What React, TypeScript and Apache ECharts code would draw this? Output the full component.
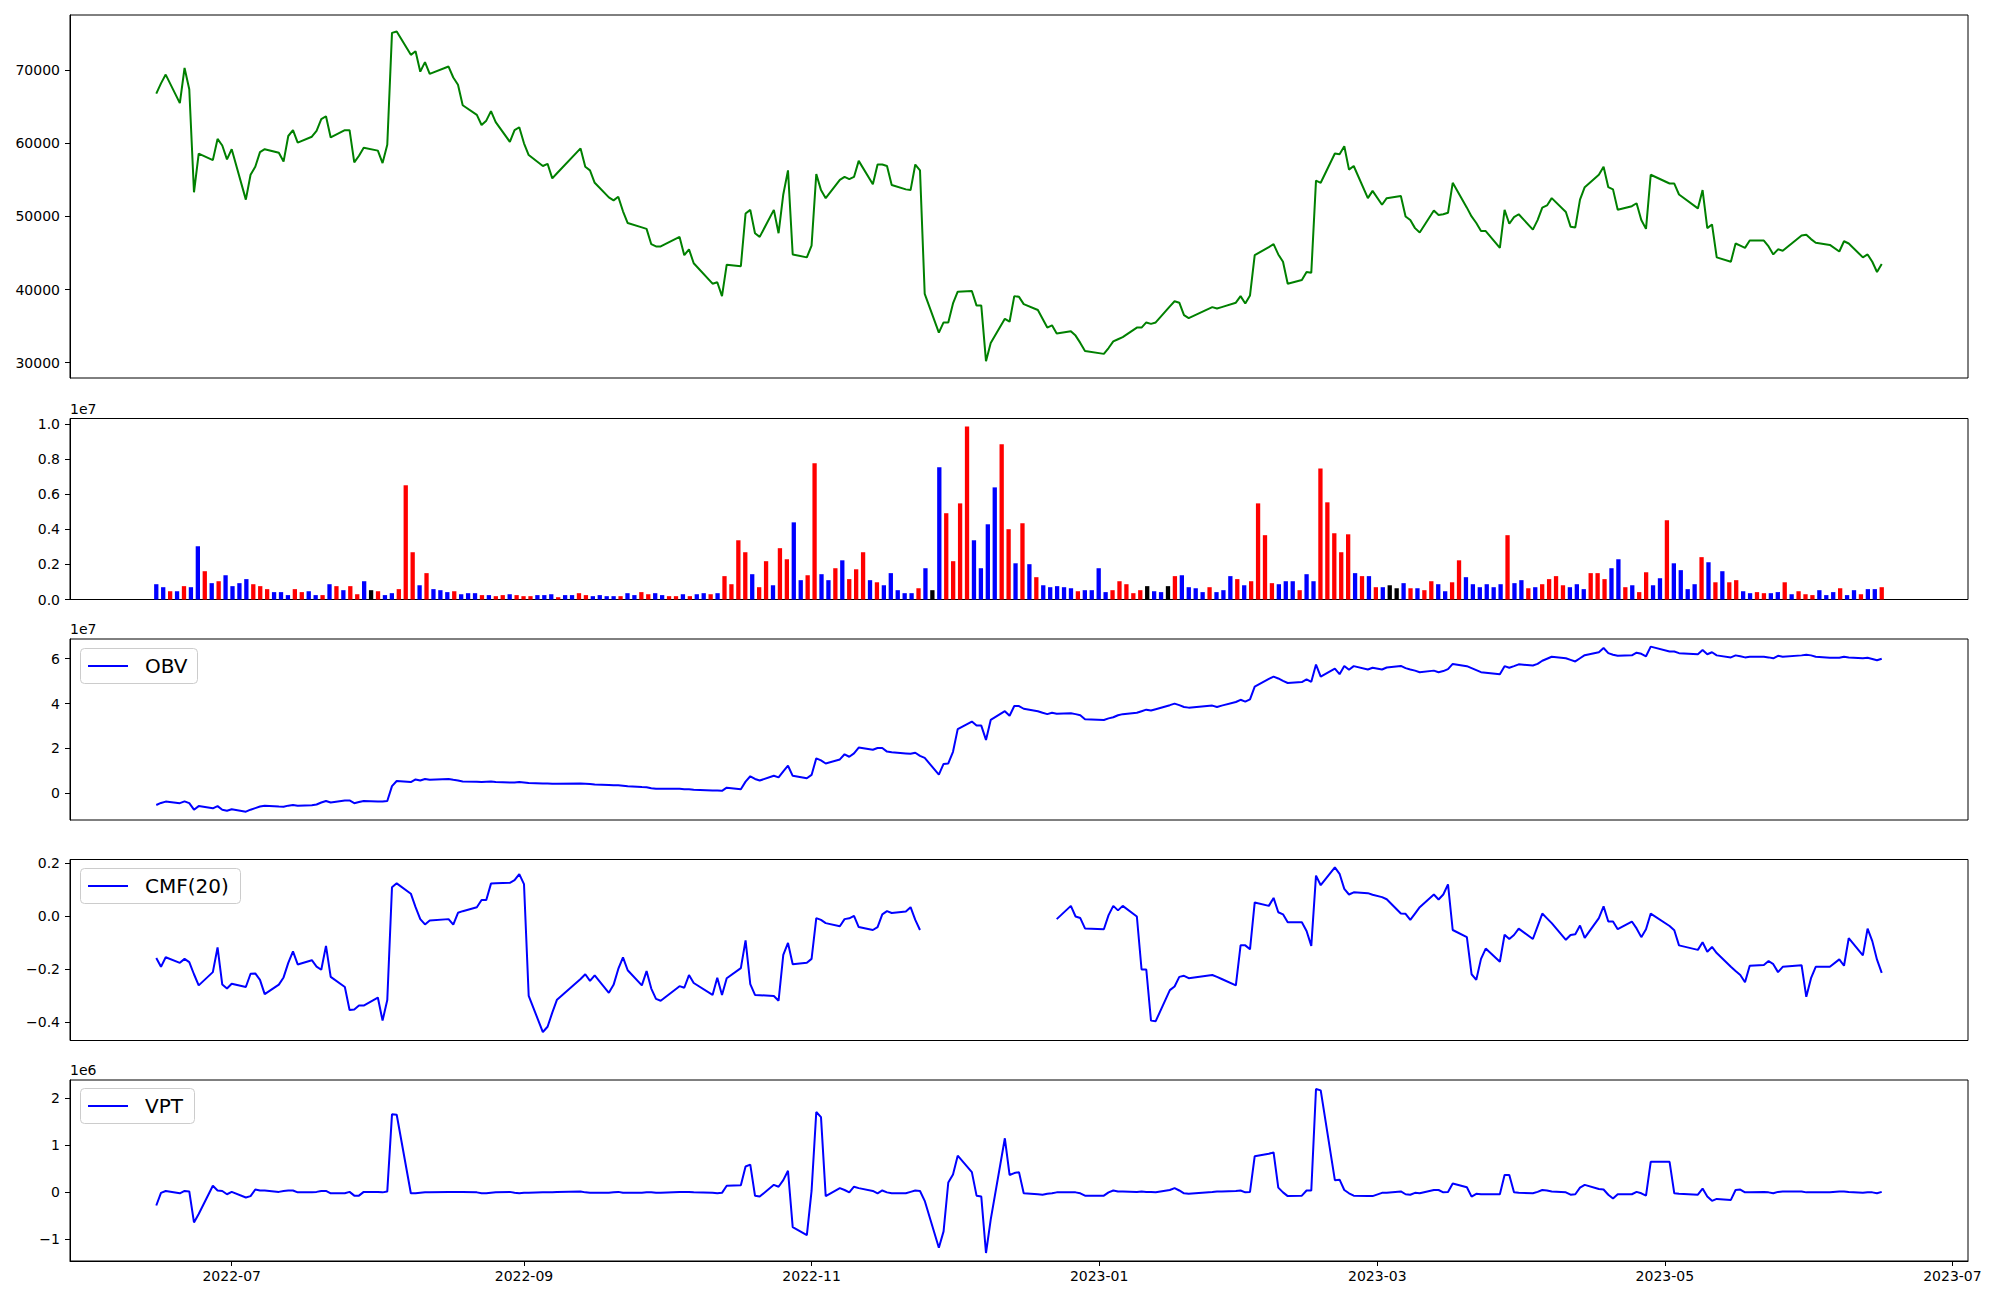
import React, { useEffect, useRef } from "react";
import * as echarts from "echarts";

// ---------------- data ----------------
const START_DATE = "2022-06-15";
const END_DATE = "2023-06-16";
const MARKET_HOLIDAYS = [
  "2022-08-15", "2022-09-09", "2022-09-12", "2022-10-03", "2022-10-10", "2022-12-30",
  "2023-01-23", "2023-01-24", "2023-03-01", "2023-05-01", "2023-05-05", "2023-05-29", "2023-06-06",
];
const X_TICK_MONTHS = ["2022-07", "2022-09", "2022-11", "2023-01", "2023-03", "2023-05", "2023-07"];

const CLOSE = [
  66800, 68200, 69400, 65500, 70300, 67400, 53300, 58600, 57700, 60600,
  59700, 57800, 59200, 52300, 55700, 56800, 58800, 59200, 58700, 57500,
  61000, 61800, 60100, 60900, 61700, 63300, 63700, 60800, 61800, 61800,
  57400, 58300, 59400, 59000, 57300, 59800, 75100, 75300, 72100, 72600,
  69800, 71100, 69500, 70500, 69000, 68000, 65200, 63900, 62500, 63100,
  64400, 62900, 60200, 61800, 62200, 60000, 58400, 56900, 57200, 55200,
  55900, 59300, 56800, 56300, 54600, 52600, 52200, 52700, 50700, 49100,
  48500, 48300, 46200, 45900, 45900, 47200, 44700, 45500, 43600, 40800,
  41000, 39100, 43400, 43200, 50400, 50900, 47700, 47200, 50900, 47700,
  53000, 56300, 44800, 44400, 46000, 55800, 53600, 52500, 55000, 55400,
  55100, 55400, 57600, 54400, 57100, 57100, 56900, 54300, 53700, 53600,
  57100, 56300, 39400, 34100, 35500, 35500, 38100, 39700, 39800, 37800,
  37800, 30200, 32700, 36000, 35600, 39100, 39000, 38000, 37200, 36000,
  34800, 35100, 34000, 34300, 33700, 32700, 31600, 31200, 32000, 32900,
  33200, 33500, 34800, 34800, 35500, 35300, 35500, 37700, 38400, 38200,
  36500, 36100, 37600, 37400, 37600, 38200, 39100, 38100, 39200, 44700,
  45800, 46200, 44800, 43800, 40800, 41300, 42400, 42300, 54900, 54600,
  58600, 58500, 59600, 56400, 56900, 52500, 53500, 51600, 52500, 52800,
  50000, 49500, 48400, 47800, 50800, 50200, 50300, 50500, 54600, 51200,
  50000, 49100, 48000, 48000, 45700, 50900, 49000, 49900, 50300, 48200,
  49500, 51200, 51500, 52500, 50600, 48600, 48500, 52300, 54000, 55700,
  56800, 54000, 53700, 50900, 51400, 51800, 49500, 48300, 55700, 54500,
  54500, 53000, 51100, 53600, 48400, 48900, 44400, 43800, 46300, 46000,
  45700, 46700, 46700, 45900, 44800, 45500, 45300, 47400, 47500, 46900,
  46400, 46100, 45200, 46600, 46300, 44400, 44800, 43800, 42400, 43500,
];

// volume in millions of shares
const VOLUME_M = [
  0.87, 0.70, 0.47, 0.47, 0.76, 0.70, 3.03, 1.61, 0.93, 1.04,
  1.38, 0.76, 0.93, 1.16, 0.87, 0.76, 0.59, 0.42, 0.42, 0.25,
  0.59, 0.42, 0.47, 0.25, 0.25, 0.87, 0.76, 0.53, 0.76, 0.30,
  1.04, 0.53, 0.47, 0.25, 0.36, 0.59, 6.50, 2.69, 0.81, 1.50,
  0.59, 0.53, 0.42, 0.47, 0.30, 0.36, 0.36, 0.25, 0.25, 0.19,
  0.25, 0.30, 0.25, 0.19, 0.19, 0.25, 0.25, 0.30, 0.13, 0.25,
  0.25, 0.36, 0.25, 0.19, 0.25, 0.19, 0.19, 0.19, 0.36, 0.25,
  0.42, 0.30, 0.36, 0.25, 0.19, 0.19, 0.30, 0.19, 0.30, 0.36,
  0.30, 0.36, 1.33, 0.87, 3.37, 2.69, 1.44, 0.70, 2.18, 0.81,
  2.92, 2.29, 4.39, 1.10, 1.38, 7.75, 1.44, 1.10, 1.78, 2.23,
  1.16, 1.72, 2.69, 1.10, 0.98, 0.81, 1.50, 0.53, 0.36, 0.36,
  0.64, 1.78, 0.53, 7.52, 4.91, 2.18, 5.47, 9.85, 3.37, 1.78,
  4.28, 6.38, 8.83, 4.00, 2.06, 4.34, 2.01, 1.27, 0.81, 0.70,
  0.76, 0.70, 0.64, 0.47, 0.53, 0.53, 1.78, 0.42, 0.53, 1.04,
  0.87, 0.36, 0.53, 0.76, 0.47, 0.42, 0.76, 1.33, 1.38, 0.70,
  0.64, 0.42, 0.70, 0.42, 0.53, 1.33, 1.16, 0.81, 1.04, 5.47,
  3.66, 0.93, 0.87, 1.04, 1.04, 0.53, 1.44, 1.04, 7.46, 5.53,
  3.77, 2.69, 3.71, 1.50, 1.33, 1.33, 0.70, 0.70, 0.81, 0.64,
  0.93, 0.64, 0.64, 0.53, 1.04, 0.87, 0.47, 0.98, 2.23, 1.27,
  0.87, 0.70, 0.87, 0.70, 0.87, 3.66, 0.93, 1.10, 0.64, 0.70,
  0.87, 1.16, 1.33, 0.81, 0.70, 0.87, 0.59, 1.50, 1.50, 1.16,
  1.78, 2.29, 0.70, 0.81, 0.42, 1.55, 0.81, 1.21, 4.51, 2.06,
  1.67, 0.59, 0.87, 2.41, 2.12, 0.98, 1.61, 0.98, 1.10, 0.47,
  0.36, 0.42, 0.36, 0.36, 0.42, 0.98, 0.30, 0.47, 0.30, 0.25,
  0.53, 0.25, 0.42, 0.64, 0.25, 0.53, 0.30, 0.59, 0.59, 0.70,
];

// bar colour code per day: r = up, b = down, k = unchanged
const VOLUME_DIR =
  "bbrbrbbrbr" + "bbbbrrrbbb" + "rrbbrbrbrr" + "bkrbbrrrbr" + "bbbrbbbrbr" +
  "rbrrrbbbrb" + "brrbbbbrbb" + "rrbbrrbrbb" + "rbrrrrbrrb" + "rrbbrrbbrb" +
  "rrrbrbbbbb" + "rbkbrrrrbb" + "bbrrbrbrbb" + "bbbrbbbbrr" + "rrrkbbkrbb" +
  "bbrbbbrbrr" + "rrbbbrbbrr" + "rrrbrbrbkk" + "brbrrbbrrb" + "bbbbbrbbrb" +
  "rrrrbbbrrr" + "bbrbrrbbrb" + "bbbrbrbrrb" + "brrbbrbrrr" + "bbbrbbrbbr";

// OBV in units of 1e7
const OBV_E7 = [
  -0.52, -0.43, -0.37, -0.44, -0.36, -0.44, -0.73, -0.57, -0.67, -0.57,
  -0.73, -0.78, -0.71, -0.82, -0.73, -0.66, -0.59, -0.55, -0.59, -0.60,
  -0.55, -0.52, -0.55, -0.53, -0.50, -0.41, -0.34, -0.41, -0.32, -0.32,
  -0.44, -0.39, -0.34, -0.36, -0.37, -0.34, 0.32, 0.55, 0.50, 0.62,
  0.57, 0.64, 0.60, 0.64, 0.60, 0.57, 0.53, 0.52, 0.50, 0.52,
  0.53, 0.50, 0.48, 0.48, 0.50, 0.48, 0.46, 0.44, 0.44, 0.43,
  0.43, 0.44, 0.43, 0.41, 0.39, 0.37, 0.36, 0.36, 0.34, 0.32,
  0.28, 0.27, 0.23, 0.20, 0.20, 0.20, 0.18, 0.18, 0.16, 0.13,
  0.12, 0.11, 0.25, 0.18, 0.52, 0.76, 0.64, 0.57, 0.78, 0.71,
  0.98, 1.23, 0.78, 0.67, 0.82, 1.56, 1.47, 1.33, 1.51, 1.74,
  1.63, 1.78, 2.04, 1.94, 2.02, 2.02, 1.86, 1.83, 1.78, 1.76,
  1.81, 1.67, 1.58, 0.83, 1.31, 1.33, 1.85, 2.86, 3.20, 3.02,
  3.02, 2.38, 3.27, 3.66, 3.46, 3.89, 3.89, 3.77, 3.66, 3.59,
  3.53, 3.59, 3.55, 3.57, 3.53, 3.48, 3.30, 3.27, 3.34, 3.39,
  3.48, 3.53, 3.59, 3.66, 3.73, 3.69, 3.75, 3.93, 4.00, 3.93,
  3.85, 3.82, 3.91, 3.85, 3.91, 4.07, 4.17, 4.09, 4.19, 4.76,
  5.10, 5.20, 5.12, 5.01, 4.92, 4.96, 5.08, 4.97, 5.74, 5.20,
  5.56, 5.31, 5.68, 5.51, 5.67, 5.52, 5.60, 5.52, 5.61, 5.68,
  5.58, 5.52, 5.47, 5.40, 5.47, 5.40, 5.45, 5.54, 5.77, 5.67,
  5.58, 5.49, 5.40, 5.38, 5.31, 5.67, 5.60, 5.67, 5.75, 5.70,
  5.77, 5.91, 6.00, 6.09, 6.02, 5.95, 5.88, 6.02, 6.16, 6.29,
  6.48, 6.25, 6.18, 6.13, 6.15, 6.27, 6.22, 6.11, 6.54, 6.32,
  6.32, 6.25, 6.20, 6.39, 6.20, 6.29, 6.15, 6.06, 6.15, 6.11,
  6.06, 6.09, 6.09, 6.06, 6.02, 6.13, 6.09, 6.15, 6.18, 6.15,
  6.09, 6.04, 6.04, 6.09, 6.06, 6.02, 6.04, 5.99, 5.93, 6.00,
];

const CMF_20 = [
  -0.159, -0.192, -0.156, -0.177, -0.162, -0.174, -0.220, -0.262, -0.212, -0.119,
  -0.259, -0.274, -0.256, -0.268, -0.218, -0.217, -0.241, -0.295, -0.259, -0.232,
  -0.177, -0.134, -0.183, -0.167, -0.191, -0.203, -0.113, -0.230, -0.268, -0.355,
  -0.353, -0.338, -0.338, -0.308, -0.395, -0.317, 0.108, 0.123, 0.084, 0.033,
  -0.012, -0.032, -0.017, -0.012, -0.033, 0.012, 0.018, 0.033, 0.060, 0.060,
  0.122, 0.123, 0.125, 0.135, 0.158, 0.120, -0.302, -0.438, -0.418, -0.365,
  -0.316, -0.238, -0.220, -0.245, -0.224, -0.290, -0.260, -0.200, -0.156, -0.205,
  -0.262, -0.208, -0.274, -0.313, -0.320, -0.265, -0.271, -0.223, -0.253, -0.298,
  -0.233, -0.298, -0.235, -0.197, -0.092, -0.257, -0.298, -0.299, -0.302, -0.320,
  -0.147, -0.102, -0.182, -0.177, -0.162, -0.008, -0.015, -0.027, -0.039, -0.012,
  -0.009, 0.000, -0.042, -0.053, -0.042, 0.006, 0.018, 0.011, 0.017, 0.033,
  -0.015, -0.053, null, null, null, null, null, null, null, null,
  null, null, null, null, null, null, null, null, null, null,
  null, null, -0.012, 0.038, -0.002, -0.008, -0.047, -0.050, 0.003, 0.038,
  0.021, 0.038, -0.002, -0.202, -0.202, -0.395, -0.397, -0.280, -0.266, -0.230,
  -0.226, -0.235, -0.223, -0.230, -0.238, -0.262, -0.111, -0.111, -0.126, 0.051,
  0.038, 0.068, 0.014, 0.006, -0.024, -0.024, -0.057, -0.113, 0.152, 0.116,
  0.183, 0.159, 0.102, 0.081, 0.089, 0.086, 0.080, 0.071, 0.063, 0.009,
  0.008, -0.015, 0.009, 0.033, 0.081, 0.062, 0.081, 0.119, -0.053, -0.080,
  -0.220, -0.241, -0.162, -0.123, -0.173, -0.071, -0.087, -0.072, -0.048, -0.087,
  -0.039, 0.009, -0.009, -0.027, -0.090, -0.072, -0.069, -0.036, -0.083, -0.008,
  0.036, -0.021, -0.021, -0.050, -0.021, -0.047, -0.080, -0.050, 0.009, -0.038,
  -0.054, -0.111, -0.128, -0.099, -0.135, -0.117, -0.140, -0.192, -0.208, -0.223,
  -0.250, -0.188, -0.185, -0.170, -0.182, -0.212, -0.192, -0.186, -0.305, -0.235,
  -0.192, -0.192, -0.164, -0.188, -0.084, -0.149, -0.048, -0.095, -0.165, -0.215,
];

// VPT in units of 1e6
const VPT_E6 = [
  -0.29, -0.02, 0.02, -0.03, 0.02, 0.01, -0.65, -0.47, 0.13, 0.03,
  0.02, -0.05, 0.00, -0.12, -0.09, 0.05, 0.03, 0.03, 0.00, 0.02,
  0.03, 0.03, -0.01, -0.01, 0.00, 0.02, 0.02, -0.03, -0.03, 0.00,
  -0.08, -0.08, 0.00, 0.00, -0.01, 0.01, 1.65, 1.64, -0.03, -0.03,
  -0.02, -0.01, -0.01, 0.00, 0.00, 0.00, 0.00, -0.01, -0.03, -0.03,
  -0.02, -0.01, 0.00, -0.02, -0.03, -0.02, -0.02, -0.01, -0.01, -0.01,
  0.00, 0.01, -0.01, -0.02, -0.02, -0.02, -0.01, 0.00, -0.02, -0.02,
  -0.02, -0.01, -0.01, -0.02, -0.02, 0.00, 0.00, 0.00, -0.01, -0.02,
  -0.03, -0.02, 0.13, 0.14, 0.54, 0.58, -0.08, -0.10, 0.15, 0.11,
  0.25, 0.45, -0.75, -0.92, 0.02, 1.70, 1.59, -0.09, 0.08, 0.04,
  -0.01, 0.11, 0.08, 0.02, -0.03, 0.03, -0.01, -0.03, -0.03, 0.00,
  0.03, 0.02, -0.19, -1.19, -0.84, 0.20, 0.37, 0.77, 0.42, -0.08,
  -0.10, -1.30, -0.59, 1.14, 0.36, 0.40, 0.42, -0.03, -0.05, -0.06,
  -0.04, -0.03, -0.01, -0.01, -0.01, -0.03, -0.08, -0.08, -0.01, 0.03,
  0.01, 0.01, 0.00, 0.01, 0.00, 0.00, -0.01, 0.04, 0.08, 0.03,
  -0.03, -0.04, 0.00, 0.01, 0.01, 0.02, 0.03, -0.01, 0.00, 0.76,
  0.81, 0.84, 0.09, -0.01, -0.09, -0.08, 0.03, 0.03, 2.19, 2.16,
  0.25, 0.26, 0.04, -0.03, -0.08, -0.09, -0.09, -0.02, -0.02, 0.01,
  -0.05, -0.06, -0.02, -0.03, 0.04, 0.04, -0.01, 0.00, 0.18, 0.10,
  -0.10, -0.04, -0.05, -0.05, -0.05, 0.36, 0.36, -0.01, -0.02, -0.03,
  0.00, 0.04, 0.03, 0.01, -0.01, -0.06, -0.05, 0.09, 0.15, 0.06,
  0.05, -0.06, -0.14, -0.05, -0.05, 0.00, -0.03, -0.08, 0.64, 0.64,
  -0.03, -0.04, -0.06, 0.07, -0.10, -0.19, -0.15, -0.17, 0.04, 0.05,
  -0.01, -0.01, 0.00, -0.01, -0.03, 0.00, 0.01, 0.01, -0.01, -0.01,
  -0.01, -0.01, 0.01, 0.01, 0.00, -0.02, -0.01, -0.01, -0.03, 0.00,
];

const PRICE_TICKS = [30000, 40000, 50000, 60000, 70000];
const VOLUME_TICKS = [0, 2e6, 4e6, 6e6, 8e6, 1e7];
const OBV_TICKS = [0, 2e7, 4e7, 6e7];
const CMF_TICKS = [-0.4, -0.2, 0, 0.2];
const VPT_TICKS = [-1e6, 0, 1e6, 2e6];

// ---------------- helpers ----------------
const FONT = "DejaVu Sans";
const DAY = 86400000;
const minus = (s: string) => s.replace("-", "\u2212");

function tradingDays(): number[] {
  const hol = new Set(MARKET_HOLIDAYS);
  const out: number[] = [];
  let t = Date.parse(START_DATE + "T00:00:00Z");
  const end = Date.parse(END_DATE + "T00:00:00Z");
  while (t <= end) {
    const d = new Date(t);
    const wd = d.getUTCDay();
    const s = d.toISOString().slice(0, 10);
    if (wd !== 0 && wd !== 6 && !hol.has(s)) out.push(t);
    t += DAY;
  }
  return out;
}

export default function App() {
  const ref = useRef<HTMLDivElement>(null);

  useEffect(() => {
    if (!ref.current) return;
    const chart = echarts.init(ref.current, null, { renderer: "svg" });

    const dates = tradingDays();
    const t0 = dates[0];
    const t1 = dates[dates.length - 1];
    const span = t1 - t0;
    const xMin = t0 - 0.05 * span;
    const xMax = t1 + 0.05 * span;
    // bars are spread evenly over the date range
    const nb = VOLUME_M.length;
    const barT = VOLUME_M.map((_, i) => t0 + (span * i) / (nb - 1));
    const xTicks = X_TICK_MONTHS.map((m) => Date.parse(m + "-01T00:00:00Z"));

    const grids = [
      { top: 15, height: 363 },
      { top: 418.5, height: 181 },
      { top: 639, height: 181 },
      { top: 859.5, height: 181 },
      { top: 1080, height: 181 },
    ].map((g) => ({
      left: 70,
      width: 1898,
      top: g.top,
      height: g.height,
      show: true,
      borderColor: "#000",
      borderWidth: 1,
      backgroundColor: "transparent",
    }));

    const xAxes = grids.map((_, i) => {
      const last = i === grids.length - 1;
      return {
        type: "value",
        gridIndex: i,
        min: xMin,
        max: xMax,
        show: last,
        axisLine: { show: last, onZero: false, lineStyle: { color: "#000", width: 1 } },
        axisTick: {
          show: last,
          length: 5,
          customValues: xTicks,
          lineStyle: { color: "#000", width: 1 },
        },
        axisLabel: {
          show: last,
          customValues: xTicks,
          color: "#000",
          fontSize: 14,
          fontFamily: FONT,
          margin: 8,
          hideOverlap: false,
          formatter: (v: number) => {
            const d = new Date(v);
            return d.getUTCFullYear() + "-" + String(d.getUTCMonth() + 1).padStart(2, "0");
          },
        },
        splitLine: { show: false },
      };
    });

    const yAxis = (i: number, min: number, max: number, ticks: number[], fmt: (v: number) => string) => ({
      type: "value",
      gridIndex: i,
      min,
      max,
      axisLine: { show: true, onZero: false, lineStyle: { color: "#000", width: 1 } },
      axisTick: { show: true, length: 5, customValues: ticks, lineStyle: { color: "#000", width: 1 } },
      axisLabel: {
        show: true,
        customValues: ticks,
        formatter: fmt,
        color: "#000",
        fontSize: 14,
        fontFamily: FONT,
        margin: 10,
      },
      splitLine: { show: false },
    });

    const yAxes = [
      yAxis(0, 27900, 77550, PRICE_TICKS, (v) => String(Math.round(v))),
      yAxis(1, 0, 1.03e7, VOLUME_TICKS, (v) => (v / 1e7).toFixed(1)),
      yAxis(2, -1.19e7, 6.88e7, OBV_TICKS, (v) => minus(String(Math.round(v / 1e7)))),
      yAxis(3, -0.47, 0.213, CMF_TICKS, (v) => minus((Math.abs(v) < 1e-9 ? 0 : v).toFixed(1))),
      yAxis(4, -1.47e6, 2.38e6, VPT_TICKS, (v) => minus(String(Math.round(v / 1e6)))),
    ];

    const lineSeries = (i: number, vals: (number | null)[], scale: number, color: string) => ({
      type: "line",
      xAxisIndex: i,
      yAxisIndex: i,
      data: dates.map((t, k) => [t, vals[k] === null ? null : (vals[k] as number) * scale]),
      showSymbol: false,
      symbol: "none",
      connectNulls: false,
      silent: true,
      lineStyle: { color, width: 2 },
      itemStyle: { color },
    });

    const dirColor: Record<string, string> = { r: "#ff0000", b: "#0000ff", k: "#000000" };

    const legend = (top: number, w: number, label: string) => ({
      type: "group",
      children: [
        {
          type: "rect",
          shape: { x: 80.5, y: top, width: w, height: 35, r: 4 },
          style: { fill: "rgba(255,255,255,0.8)", stroke: "#cccccc", lineWidth: 1 },
        },
        {
          type: "line",
          shape: { x1: 88, y1: top + 17.5, x2: 128, y2: top + 17.5 },
          style: { stroke: "#0000ff", lineWidth: 2 },
        },
        {
          type: "text",
          x: 145,
          y: top + 17.5,
          style: {
            text: label,
            fill: "#000",
            font: `20px "${FONT}"`,
            textAlign: "left",
            textVerticalAlign: "middle",
          },
        },
      ],
    });

    const offsetText = (y: number, label: string) => ({
      type: "text",
      x: 70,
      y,
      style: {
        text: label,
        fill: "#000",
        font: `14px "${FONT}"`,
        textAlign: "left",
        textVerticalAlign: "middle",
      },
    });

    const option: any = {
      animation: false,
      backgroundColor: "#ffffff",
      textStyle: { fontFamily: FONT },
      grid: grids,
      xAxis: xAxes,
      yAxis: yAxes,
      series: [
        lineSeries(0, CLOSE, 1, "#008000"),
        {
          type: "bar",
          xAxisIndex: 1,
          yAxisIndex: 1,
          barWidth: 4.3,
          silent: true,
          data: barT.map((t, k) => ({
            value: [t, VOLUME_M[k] * 1e6],
            itemStyle: { color: dirColor[VOLUME_DIR[k]] },
          })),
        },
        lineSeries(2, OBV_E7, 1e7, "#0000ff"),
        lineSeries(3, CMF_20, 1, "#0000ff"),
        lineSeries(4, VPT_E6, 1e6, "#0000ff"),
      ],
      graphic: [
        offsetText(409, "1e7"),
        offsetText(629, "1e7"),
        offsetText(1070, "1e6"),
        legend(648.5, 117, "OBV"),
        legend(868.5, 160, "CMF(20)"),
        legend(1088.5, 114, "VPT"),
      ],
    };

    chart.setOption(option);
    return () => chart.dispose();
  }, []);

  return (
    <div
      ref={ref}
      style={{ position: "absolute", left: 0, top: 0, width: 2000, height: 1300, background: "#fff" }}
    />
  );
}
